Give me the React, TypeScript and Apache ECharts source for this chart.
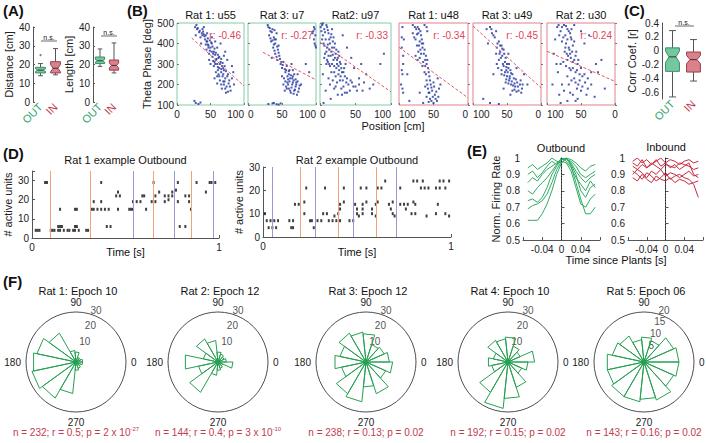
import React, { useEffect, useRef } from 'react';
import * as echarts from 'echarts';

const FONT = 'Liberation Sans, Arial, Helvetica, sans-serif';
const RED = '#c23a4e';
const OUT_FILL = '#74c8a0';
const OUT_STROKE = '#3f8c68';
const IN_FILL = '#dc808c';
const IN_STROKE = '#9c3e4e';
const ORANGE = '#f2a37a';
const PURPLE = '#9a9ad2';
const DOT_BLUE = '#1c2f9c';

// ---------- Panel A / C (box plots) ----------
const boxCats = ['OUT', 'IN'];
// [cat, min, q1, notchLo, median, notchHi, q3, max]
const distanceBoxes = [
  [0, 14, 15.5, 16.3, 17, 17.7, 18.5, 20.5],
  [1, 14.5, 15.5, 16, 18, 20, 21.5, 28.5],
];
const distanceOutliers = [[0, 25]];
const lengthBoxes = [
  [0, 19, 20.5, 21.3, 22, 22.7, 24, 28.3],
  [1, 15.5, 17, 18.3, 19.5, 20.7, 22.4, 31.5],
];
const corrBoxes = [
  [0, -0.67, -0.3, -0.17, -0.09, -0.01, 0.04, 0.29],
  [1, -0.44, -0.31, -0.19, -0.13, -0.07, -0.02, 0.16],
];

// ---------- Panel B (phase precession) ----------
const bTitles = ['Rat 1: u55', 'Rat 3: u7', 'Rat2: u97', 'Rat 1: u48', 'Rat 3: u49', 'Rat 2: u30'];
const bR = ['-0.46', '-0.27', '-0.33', '-0.34', '-0.45', '-0.24'];
const bFits = [
  [[22, 427], [100, 193]],
  [[22, 357], [100, 223]],
  [[0, 406], [100, 164]],
  [[100, 381], [0, 135]],
  [[100, 485], [0, 184]],
  [[100, 362], [0, 215]],
];
const bPts1 = [[27,480],[30,470],[33,455],[28,440],[35,430],[38,470],[40,445],[42,420],[36,400],[45,410],[47,390],[44,370],[50,380],[52,400],[48,350],[55,360],[53,335],[57,345],[58,320],[60,380],[62,330],[50,300],[55,290],[60,300],[63,280],[65,310],[67,290],[58,260],[62,250],[66,260],[70,270],[68,240],[72,230],[64,220],[70,200],[74,190],[76,250],[78,220],[80,170],[73,160],[67,180],[60,205],[82,290],[75,320],[70,340],[85,200],[45,450],[52,430],[57,410],[40,480],[28,110],[32,105],[35,112],[26,120],[65,400],[72,360],[48,320],[56,230],[43,395],[54,315],[61,270],[69,215],
  [29,490],[31,475],[34,462],[37,450],[39,458],[41,435],[43,440],[46,425],[49,415],[51,405],[46,395],[53,385],[56,375],[49,365],[58,355],[61,345],[54,350],[63,335],[59,325],[66,325],[56,310],[64,300],[68,305],[61,285],[69,280],[71,290],[66,275],[73,265],[63,240],[69,250],[75,240],[71,215],[77,205],[66,200],[79,190],[72,180],[76,165],[82,230],[84,260],[60,240],[52,360],[44,410],[38,440],[47,380],[57,300]];
const bPts2 = [[30,480],[33,460],[36,470],[31,440],[38,430],[34,410],[40,400],[42,450],[37,380],[44,370],[40,350],[46,340],[35,330],[43,320],[48,300],[50,280],[52,310],[55,260],[57,290],[60,250],[53,230],[58,210],[62,230],[65,200],[60,180],[67,220],[70,190],[63,160],[68,170],[72,150],[75,180],[56,190],[50,240],[66,270],[73,250],[78,200],[54,170],[64,300],[97,480],[99,440],[98,400],[96,460],[100,380],[30,105],[38,110],[45,102],[48,108],[85,300],[90,260],[59,200],[61,270],[66,240],[71,210],[39,420],[45,390],
  [29,490],[32,475],[35,455],[39,465],[33,425],[36,415],[41,420],[38,395],[43,385],[39,365],[45,355],[42,335],[47,325],[49,310],[51,295],[54,275],[56,270],[58,240],[61,215],[63,245],[59,225],[64,185],[66,210],[69,175],[71,200],[74,165],[62,170],[57,180],[67,155],[52,200],[55,215],[60,265],[65,230],[70,225],[76,195],[73,215],[68,250],[98,470],[97,420],[99,390],[95,450],[36,108],[42,104]];
const bPts3 = [[3,490],[6,470],[10,480],[4,440],[8,420],[12,450],[15,430],[5,400],[10,380],[14,400],[18,410],[20,380],[7,350],[12,340],[16,360],[22,350],[25,330],[19,320],[9,300],[14,290],[24,300],[28,310],[30,280],[20,260],[26,250],[33,260],[35,240],[12,230],[18,220],[28,220],[38,230],[40,200],[22,190],[30,180],[45,210],[50,190],[42,170],[35,160],[25,150],[55,230],[60,170],[48,280],[58,300],[65,250],[75,200],[85,300],[90,350],[8,170],[15,130],[5,110],[32,440],[38,380],[44,330],[2,460],[17,470],[11,310],[27,270],[36,300],
  [1,480],[4,498],[7,455],[9,490],[11,465],[13,420],[16,445],[19,430],[21,400],[3,420],[6,390],[9,360],[11,395],[13,370],[17,380],[23,370],[26,360],[15,340],[18,345],[21,330],[24,320],[27,340],[29,300],[10,320],[13,300],[17,300],[20,290],[23,280],[26,290],[31,260],[34,280],[16,260],[22,240],[29,240],[32,220],[37,210],[24,210],[20,180],[33,190],[43,220],[47,190],[52,170],[38,160],[31,150],[55,200],[62,210],[70,180],[6,330],[4,250],[14,200]];
const bPts4 = [[95,480],[93,420],[96,380],[94,300],[95,250],[97,200],[94,160],[80,490],[75,470],[72,450],[78,430],[70,410],[68,440],[74,390],[66,380],[72,360],[64,350],[70,330],[62,320],[76,340],[60,300],[66,290],[58,280],[63,260],[56,240],[60,220],[54,200],[58,180],[50,210],[52,170],[48,150],[55,130],[45,120],[50,110],[60,140],[62,190],[44,230],[40,200],[65,110],[70,160],[42,180],[88,250],[85,120],[63,490],[59,460],[73,480],[67,400],[57,160],
  [77,480],[71,470],[69,460],[74,445],[76,420],[67,420],[65,400],[71,390],[69,370],[63,370],[61,340],[68,350],[73,320],[65,310],[59,320],[62,290],[57,260],[61,250],[55,220],[59,200],[53,185],[56,160],[51,140],[47,130],[53,120],[57,115],[46,165],[49,190],[43,140],[96,430],[94,340],[96,270],[95,180],[80,450],[60,480]];
const bPts5 = [[80,470],[75,480],[72,450],[68,430],[78,400],[62,410],[58,390],[65,380],[60,360],[55,370],[57,340],[52,330],[62,320],[50,300],[55,290],[48,280],[53,260],[45,270],[58,250],[50,240],[42,250],[47,220],[40,230],[52,210],[44,200],[38,190],[35,210],[30,220],[42,170],[33,170],[28,180],[25,250],[36,280],[45,150],[55,180],[65,300],[70,250],[85,130],[75,110],[62,105],[20,200],[48,350],[66,460],[51,270],[46,240],[39,205],
  [73,470],[70,440],[64,400],[60,390],[57,375],[61,350],[54,350],[59,330],[53,310],[56,300],[51,285],[47,300],[49,260],[54,245],[44,255],[46,230],[51,225],[43,215],[41,195],[48,205],[37,225],[34,190],[31,200],[39,175],[29,160],[36,165],[27,200],[63,280],[58,270],[66,350]];
const bPts6 = [[85,480],[80,460],[75,490],[70,470],[66,450],[88,420],[78,410],[72,400],[68,380],[62,390],[74,360],[66,350],[58,340],[70,320],[62,310],[55,300],[80,300],[84,260],[65,270],[58,260],[50,280],[45,250],[60,230],[52,220],[40,230],[68,200],[56,180],[48,190],[35,200],[75,170],[62,150],[70,120],[80,110],[55,130],[42,150],[30,140],[25,260],[20,320],[90,350],[92,200],[45,400],[38,440],[50,460],[15,180],[60,490],[73,440],[64,420],[69,340],
  [83,490],[78,480],[72,485],[68,460],[64,470],[82,440],[76,430],[70,420],[65,430],[60,410],[73,380],[67,370],[63,360],[57,360],[71,350],[65,330],[60,320],[54,320],[76,310],[72,290],[67,280],[62,280],[56,270],[52,250],[48,240],[64,220],[58,210],[54,200],[44,210],[70,240],[66,160],[50,170],[40,180],[78,200],[86,300],[35,260],[28,300],[82,150],[58,120]];
const bPoints = [bPts1, bPts2, bPts3, bPts4, bPts5, bPts6];

// ---------- Panel D (rasters) ----------
const dTitles = ['Rat 1 example Outbound', 'Rat 2 example Outbound'];
const rat1Raster = [[0.02,4],[0.03,4],[0.04,4],[0.10,4],[0.11,4],[0.12,4],[0.14,4],[0.15,4],[0.17,4],[0.19,4],[0.20,4],[0.22,4],[0.23,4],[0.25,4],[0.29,4],[0.30,4],
  [0.14,6],[0.15,6],[0.16,6],[0.23,6],[0.24,6],[0.40,6],[0.42,6],[0.79,6],[0.82,6],
  [0.15,15],[0.23,15],[0.24,15],[0.32,15],[0.33,15],[0.35,15],[0.37,15],[0.39,15],[0.41,15],[0.46,15],[0.52,15],[0.53,15],[0.54,15],[0.61,15],[0.85,15],
  [0.33,19],[0.37,19],[0.54,19],[0.56,19],[0.58,19],[0.64,19],[0.66,19],[0.71,19],[0.73,20],[0.78,19],[0.84,19],
  [0.45,22],[0.47,22],[0.59,22],[0.60,22],[0.66,22],[0.71,22],[0.73,22],[0.75,22],[0.82,22],[0.84,22],
  [0.46,24],[0.68,24],[0.75,24],[0.77,25],[0.93,24],
  [0.07,29],[0.08,29],[0.37,29],[0.65,29],[0.78,29],[0.88,29],[0.95,29],[0.96,29],[0.98,29]];
const rat2Raster = [[0.03,4],[0.05,4],[0.07,4],[0.15,4],[0.16,4],[0.27,4],
  [0.02,7],[0.04,7],[0.06,7],[0.08,7],[0.14,7],[0.16,7],[0.25,7],[0.26,7],[0.29,7],[0.31,7],[0.35,7],[0.37,7],[0.39,7],[0.41,7],[0.46,7],[0.48,7],
  [0.01,10],[0.22,10],[0.32,10],[0.34,10],[0.38,9],[0.40,10],[0.50,10],[0.51,9],[0.53,10],[0.58,10],[0.60,9],[0.69,10],[0.70,9],[0.79,10],[0.81,10],[0.87,9],[0.92,10],[0.97,10],[0.99,9],
  [0.41,12],[0.50,12],[0.53,12],[0.58,12],[0.68,12],[0.76,12],
  [0.17,14],[0.19,14],[0.22,15],[0.41,14],[0.43,15],[0.49,14],[0.53,14],[0.55,15],[0.60,14],[0.61,15],[0.67,14],[0.69,15],[0.73,14],[0.75,14],[0.77,14],[0.80,15],[0.81,14],[0.93,14],
  [0.23,21],[0.33,21],[0.43,21],[0.52,21],[0.55,21],[0.61,21],[0.63,21],[0.73,21],[0.84,21],[0.86,21],[0.88,21],[0.92,21],[0.94,21],[0.97,21],
  [0.65,24],[0.80,24],[0.82,24],[0.85,24],[0.94,24],[0.96,24],[0.99,24]];
const rat1Orange = [0.10, 0.314, 0.645, 0.854];
const rat1Purple = [0.541, 0.757, 0.966];
const rat2Orange = [0.201, 0.395, 0.605];
const rat2Purple = [0.053, 0.285, 0.484, 0.708];

// ---------- Panel E (normalized firing rate) ----------
const eTimes = [-0.07,-0.06,-0.05,-0.04,-0.03,-0.02,-0.01,0,0.01,0.02,0.03,0.04,0.05,0.06,0.07];
const eOutbound = [
  [0.62,0.62,0.62,0.66,0.72,0.80,0.90,0.97,1.00,0.95,0.85,0.75,0.66,0.66,0.70],
  [0.69,0.71,0.72,0.74,0.78,0.85,0.93,0.98,0.97,0.92,0.82,0.72,0.70,0.75,0.78],
  [0.74,0.75,0.73,0.76,0.82,0.90,0.95,0.99,1.00,0.96,0.90,0.80,0.76,0.82,0.84],
  [0.80,0.78,0.82,0.85,0.88,0.92,0.96,1.00,0.98,0.94,0.88,0.84,0.80,0.86,0.82],
  [0.85,0.88,0.86,0.90,0.93,0.95,0.97,0.99,1.00,0.97,0.92,0.88,0.85,0.88,0.90],
  [0.90,0.92,0.88,0.91,0.95,0.98,0.96,1.00,0.99,0.98,0.95,0.90,0.88,0.90,0.92],
  [0.94,0.96,0.93,0.95,0.97,1.00,0.98,0.97,1.00,0.99,0.97,0.94,0.92,0.95,0.96],
];
const eInbound = [
  [0.98,1.00,0.97,0.99,0.96,0.98,1.00,0.97,0.99,0.98,0.96,0.98,0.99,0.97,0.98],
  [0.95,0.93,0.96,0.94,0.97,0.95,0.93,0.96,0.95,0.94,0.97,0.96,0.95,0.93,0.94],
  [0.90,0.93,0.91,0.88,0.92,0.90,0.93,0.89,0.91,0.90,0.88,0.90,0.92,0.89,0.90],
  [0.88,0.86,0.90,0.87,0.85,0.89,0.87,0.86,0.88,0.85,0.87,0.86,0.84,0.85,0.86],
  [0.92,0.90,0.87,0.91,0.89,0.86,0.88,0.91,0.87,0.89,0.90,0.88,0.87,0.84,0.76],
  [0.97,0.95,0.99,0.94,0.96,0.99,0.95,0.97,0.94,0.96,0.93,0.95,0.97,0.90,0.88],
];

// ---------- Panel F (rose plots, 15 bins of 24 deg) ----------
const fTitles = ['Rat 1: Epoch 10', 'Rat 2: Epoch 12', 'Rat 3: Epoch 12', 'Rat 4: Epoch 10', 'Rat 5: Epoch 06'];
const fN = [232, 144, 238, 192, 143];
const fRval = ['0.5', '0.4', '0.13', '0.15', '0.16'];
const fPbase = ['2 x 10', '3 x 10', '0.02', '0.02', '0.02'];
const fPexp = ['-27', '-10', '', '', ''];
const binWidth = 24;
const roseCounts = [
  [4,3,3,6,7,20,24,26,27,25,19,5,4,3,4],
  [5,4,5,6,13,16,9,20,12,21,8,5,4,3,9],
  [14,12,11,17,18,20,16,19,15,22,24,15,20,13,16],
  [16,8,10,15,14,15,9,12,10,21,28,22,16,9,12],
  [14,13,9,10,9,12,13,15,15,16,16,15,16,13,14],
];
const roseMax = [30, 30, 30, 30, 20];
const roseTickLabels = [[10,20,30],[10,20,30],[10,20,30],[10,20,30],[5,10,15,20]];

function rosePath(counts: number[]) {
  const pts: number[][] = [];
  counts.forEach((c, i) => {
    const a0 = i * binWidth;
    const a1 = a0 + binWidth;
    pts.push([0, a0], [c, a0], [c, a1], [0, a1]);
  });
  return pts;
}

function boxRender(fills: string[], strokes: string[]) {
  return (params: any, api: any) => {
    const xi = api.value(0);
    const mn = api.value(1), q1 = api.value(2), nlo = api.value(3), med = api.value(4),
      nhi = api.value(5), q3 = api.value(6), mx = api.value(7);
    const cx = api.coord([xi, med])[0];
    const Y = (v: number) => api.coord([xi, v])[1];
    const bw = api.size([1, 0])[0] * 0.33;
    const nw = bw * 0.5;
    const wc = '#555';
    return {
      type: 'group',
      children: [
        { type: 'line', shape: { x1: cx, y1: Y(q3), x2: cx, y2: Y(mx) }, style: { stroke: wc, lineWidth: 1 } },
        { type: 'line', shape: { x1: cx, y1: Y(q1), x2: cx, y2: Y(mn) }, style: { stroke: wc, lineWidth: 1 } },
        { type: 'line', shape: { x1: cx - nw, y1: Y(mx), x2: cx + nw, y2: Y(mx) }, style: { stroke: wc, lineWidth: 1 } },
        { type: 'line', shape: { x1: cx - nw, y1: Y(mn), x2: cx + nw, y2: Y(mn) }, style: { stroke: wc, lineWidth: 1 } },
        {
          type: 'polygon',
          shape: {
            points: [
              [cx - bw, Y(q1)], [cx - bw, Y(nlo)], [cx - nw, Y(med)], [cx - bw, Y(nhi)], [cx - bw, Y(q3)],
              [cx + bw, Y(q3)], [cx + bw, Y(nhi)], [cx + nw, Y(med)], [cx + bw, Y(nlo)], [cx + bw, Y(q1)],
            ],
          },
          style: { fill: fills[xi], stroke: strokes[xi], lineWidth: 1 },
        },
        { type: 'line', shape: { x1: cx - nw, y1: Y(med), x2: cx + nw, y2: Y(med) }, style: { stroke: '#333', lineWidth: 1 } },
      ],
    };
  };
}

function txt(x: number, y: number, text: string, opts: any = {}) {
  const align = opts.align || 'center';
  const valign = opts.valign || 'middle';
  return {
    type: 'text', x, y, rotation: opts.rotation || 0, silent: true,
    style: {
      text, fill: opts.color || '#111', fontSize: opts.size || 11, fontFamily: FONT,
      fontWeight: opts.bold ? 'bold' : 'normal',
      align, verticalAlign: valign, textAlign: align, textVerticalAlign: valign,
      rich: opts.rich,
    },
  };
}

function buildOption() {
  const grid: any[] = [];
  const xAxis: any[] = [];
  const yAxis: any[] = [];
  const series: any[] = [];
  const graphic: any[] = [];
  const tickLbl = { fontSize: 10, color: '#222', fontFamily: FONT };
  const nameStyle = { fontSize: 11, color: '#222', fontFamily: FONT };
  const axLine = { show: true, lineStyle: { color: '#555', width: 1 } };

  // ---- A ----
  const catAxis = (gi: number) => ({
    gridIndex: gi, type: 'category', data: boxCats, axisLine: { show: false }, axisTick: { show: false },
    axisLabel: {
      rotate: 45, margin: 3, interval: 0,
      formatter: (v: string) => (v === 'OUT' ? '{g|OUT}' : '{r|IN}'),
      rich: { g: { color: '#2fa56c', fontSize: 11, fontFamily: FONT }, r: { color: RED, fontSize: 11, fontFamily: FONT } },
    },
  });
  grid.push({ left: 33, top: 27, width: 30, height: 75 });
  xAxis.push(catAxis(0));
  yAxis.push({ gridIndex: 0, type: 'value', min: 0, max: 40, interval: 10, axisLine: axLine,
    axisTick: { show: true, inside: true, length: 2 }, axisLabel: { ...tickLbl, margin: 3 }, splitLine: { show: false },
    name: 'Distance [cm]', nameLocation: 'middle', nameGap: 16, nameTextStyle: nameStyle });
  grid.push({ left: 93, top: 27, width: 28, height: 75 });
  xAxis.push(catAxis(1));
  yAxis.push({ gridIndex: 1, type: 'value', min: 0, max: 40, interval: 10, axisLine: axLine,
    axisTick: { show: true, inside: true, length: 2 }, axisLabel: { ...tickLbl, margin: 3 }, splitLine: { show: false },
    name: 'Length [cm]', nameLocation: 'middle', nameGap: 16, nameTextStyle: nameStyle });
  series.push({ type: 'custom', xAxisIndex: 0, yAxisIndex: 0, renderItem: boxRender([OUT_FILL, IN_FILL], [OUT_STROKE, IN_STROKE]),
    data: distanceBoxes, encode: { x: 0, y: [1, 2, 3, 4, 5, 6, 7] }, silent: true });
  series.push({ type: 'scatter', xAxisIndex: 0, yAxisIndex: 0, data: distanceOutliers, symbol: 'circle', symbolSize: 2,
    itemStyle: { color: '#555' }, silent: true });
  series.push({ type: 'custom', xAxisIndex: 1, yAxisIndex: 1, renderItem: boxRender([OUT_FILL, IN_FILL], [OUT_STROKE, IN_STROKE]),
    data: lengthBoxes, encode: { x: 0, y: [1, 2, 3, 4, 5, 6, 7] }, silent: true });

  // ---- B ----
  const bLayout = [[177, 67], [248, 68], [320, 71], [399, 69], [473, 68], [547, 68]];
  bLayout.forEach(([left, width], i) => {
    const gi = 2 + i;
    const isOut = i < 3;
    const xLabel: any = { ...tickLbl, margin: 4 };
    if (isOut) {
      xLabel.alignMaxLabel = 'right';
      if (i > 0) xLabel.alignMinLabel = 'left';
    } else {
      xLabel.alignMaxLabel = 'left';
      if (i < 5) xLabel.alignMinLabel = 'right';
    }
    grid.push({ left, top: 23, width, height: 82, show: true, borderColor: isOut ? '#86cba6' : '#e0818d', borderWidth: 1 });
    xAxis.push({ gridIndex: gi, type: 'value', min: 0, max: 100, interval: 50, inverse: !isOut,
      axisLine: { show: false }, axisTick: { show: true, inside: true, length: 2, lineStyle: { color: '#777' } },
      axisLabel: xLabel, splitLine: { show: false } });
    yAxis.push({ gridIndex: gi, type: 'value', min: 100, max: 500, interval: 100,
      axisLine: { show: false }, axisTick: { show: true, inside: true, length: 2, lineStyle: { color: '#777' } },
      axisLabel: { ...tickLbl, show: i === 0, margin: 3 }, splitLine: { show: false },
      name: i === 0 ? 'Theta Phase [deg]' : '', nameLocation: 'middle', nameGap: 25, nameTextStyle: nameStyle });
    series.push({ type: 'scatter', xAxisIndex: gi, yAxisIndex: gi, data: bPoints[i], symbol: 'rect', symbolSize: 2,
      itemStyle: { color: DOT_BLUE }, silent: true });
    series.push({ type: 'line', xAxisIndex: gi, yAxisIndex: gi, data: bFits[i], symbol: 'none', silent: true,
      lineStyle: { color: '#e25766', width: 1, type: [3, 2] } });
    graphic.push(txt(left + width / 2, 15, bTitles[i], { size: 11 }));
    graphic.push(txt(left + width - 3, 35, 'r: ' + bR[i], { size: 10, color: '#e0445a', align: 'right' }));
  });
  graphic.push(txt(393, 126, 'Position [cm]', { size: 11 }));

  // ---- C ----
  grid.push({ left: 662, top: 23, width: 42, height: 76 });
  xAxis.push(catAxis(8));
  yAxis.push({ gridIndex: 8, type: 'value', min: -0.7, max: 0.4, interval: 0.1, axisLine: axLine,
    axisTick: { show: false },
    axisLabel: { ...tickLbl, margin: 3, formatter: (v: number) => { const k = Math.round(v * 10); return k % 2 === 0 ? (k === 0 ? '0' : String(k / 10)) : ''; } },
    splitLine: { show: false }, name: 'Corr Coef. [r]', nameLocation: 'middle', nameGap: 22, nameTextStyle: nameStyle });
  series.push({ type: 'custom', xAxisIndex: 8, yAxisIndex: 8, renderItem: boxRender([OUT_FILL, IN_FILL], [OUT_STROKE, IN_STROKE]),
    data: corrBoxes, encode: { x: 0, y: [1, 2, 3, 4, 5, 6, 7] }, silent: true });

  // n.s. brackets
  graphic.push({ type: 'line', shape: { x1: 41, y1: 41, x2: 57, y2: 41 }, style: { stroke: '#444', lineWidth: 0.8 }, silent: true });
  graphic.push(txt(49, 37, 'n.s.', { size: 7 }));
  graphic.push({ type: 'line', shape: { x1: 101, y1: 36, x2: 117, y2: 36 }, style: { stroke: '#444', lineWidth: 0.8 }, silent: true });
  graphic.push(txt(109, 32, 'n.s.', { size: 7 }));
  graphic.push({ type: 'line', shape: { x1: 675, y1: 26, x2: 694, y2: 26 }, style: { stroke: '#444', lineWidth: 0.8 }, silent: true });
  graphic.push(txt(684, 22, 'n.s.', { size: 7 }));

  // ---- D ----
  const dLayout = [[32, 187, 171, 67, 35], [263, 188, 167, 70, 30]];
  const rasters = [rat1Raster, rat2Raster];
  const oranges = [rat1Orange, rat2Orange];
  const purples = [rat1Purple, rat2Purple];
  dLayout.forEach(([left, width, top, height, ymax], i) => {
    const gi = 9 + i;
    grid.push({ left, top, width, height });
    xAxis.push({ gridIndex: gi, type: 'value', min: 0, max: 1, interval: 1, axisLine: axLine,
      axisTick: { show: true, inside: true, length: 3 }, axisLabel: { ...tickLbl, margin: 4 }, splitLine: { show: false } });
    yAxis.push({ gridIndex: gi, type: 'value', min: 0, max: ymax, interval: 10, axisLine: axLine,
      axisTick: { show: true, inside: true, length: 3 },
      axisLabel: { ...tickLbl, margin: 3, formatter: (v: number) => (v % 10 === 0 ? String(v) : '') },
      splitLine: { show: false }, name: '# active units', nameLocation: 'middle', nameGap: 18, nameTextStyle: nameStyle });
    const ml = oranges[i].map((x) => ({ xAxis: x, lineStyle: { color: ORANGE, width: 1, type: 'solid' } }))
      .concat(purples[i].map((x) => ({ xAxis: x, lineStyle: { color: PURPLE, width: 1, type: 'solid' } })));
    series.push({ type: 'scatter', xAxisIndex: gi, yAxisIndex: gi, data: rasters[i], symbol: 'rect', symbolSize: [2, 3],
      itemStyle: { color: '#111' }, silent: true,
      markLine: { silent: true, symbol: 'none', label: { show: false }, data: ml, animation: false } });
    graphic.push(txt(left + width / 2, 160, dTitles[i], { size: 11 }));
    graphic.push(txt(left + width / 2, 252, 'Time [s]', { size: 11 }));
  });

  // ---- E ----
  const eLayout = [[523, 77], [628, 78]];
  const eSets = [eOutbound, eInbound];
  const eColors = ['#2faa63', '#c8283f'];
  eLayout.forEach(([left, width], i) => {
    const gi = 11 + i;
    grid.push({ left, top: 158, width, height: 82 });
    xAxis.push({ gridIndex: gi, type: 'value', min: -0.08, max: 0.08, interval: 0.04, axisLine: axLine,
      axisTick: { show: true, inside: true, length: 3 },
      axisLabel: { ...tickLbl, margin: 4, formatter: (v: number) => (Math.abs(v) > 0.07 ? '' : v === 0 ? '0' : String(Math.round(v * 100) / 100)) },
      splitLine: { show: false } });
    yAxis.push({ gridIndex: gi, type: 'value', min: 0.5, max: 1, interval: 0.1, axisLine: axLine,
      axisTick: { show: true, inside: true, length: 3 },
      axisLabel: { ...tickLbl, margin: 3, formatter: (v: number) => String(Number(v.toFixed(1))) },
      splitLine: { show: false },
      name: i === 0 ? 'Norm. Firing Rate' : '', nameLocation: 'middle', nameGap: 22, nameTextStyle: nameStyle });
    eSets[i].forEach((vals, k) => {
      series.push({ type: 'line', xAxisIndex: gi, yAxisIndex: gi, data: eTimes.map((t, j) => [t, vals[j]]),
        symbol: 'none', silent: true, lineStyle: { color: eColors[i], width: 1 },
        markLine: k === 0 ? { silent: true, symbol: 'none', label: { show: false },
          data: [{ xAxis: 0 }], lineStyle: { color: '#222', width: 1, type: [1, 2] } } : undefined });
    });
  });
  graphic.push(txt(561, 148, 'Outbound', { size: 11 }));
  graphic.push(txt(666, 147, 'Inbound', { size: 11 }));
  graphic.push(txt(616, 260, 'Time since Plants [s]', { size: 11 }));

  // ---- F ----
  const centers = [76, 218, 366, 508, 644];
  const polar: any[] = [];
  const angleAxis: any[] = [];
  const radiusAxis: any[] = [];
  centers.forEach((cx, i) => {
    polar.push({ center: [cx, 362], radius: 50 });
    angleAxis.push({ polarIndex: i, type: 'value', min: 0, max: 360, interval: 90, startAngle: 0, clockwise: false,
      axisLine: { show: true, lineStyle: { color: '#222', width: 0.8 } }, axisTick: { show: false }, splitLine: { show: false },
      axisLabel: { ...tickLbl, margin: 5, formatter: (v: number) => (v === 360 ? '' : String(v)) } });
    radiusAxis.push({ polarIndex: i, type: 'value', min: 0, max: roseMax[i], axisLine: { show: false },
      axisTick: { show: false }, axisLabel: { show: false }, splitLine: { show: false } });
    series.push({ type: 'line', coordinateSystem: 'polar', polarIndex: i, data: rosePath(roseCounts[i]), symbol: 'none',
      silent: true, lineStyle: { color: '#27a052', width: 1 } });
    series.push({ type: 'scatter', coordinateSystem: 'polar', polarIndex: i, data: [[0, 0]], symbol: 'circle', symbolSize: 5,
      itemStyle: { color: '#27a052' }, silent: true });
    series.push({ type: 'scatter', coordinateSystem: 'polar', polarIndex: i, data: roseTickLabels[i].map((r) => [r, 70]),
      symbolSize: 1, itemStyle: { color: 'rgba(0,0,0,0)' }, silent: true,
      label: { show: true, position: 'inside', offset: [3, -5], formatter: (p: any) => String(p.value[0]), ...tickLbl } });
    graphic.push(txt(cx + 2, 291, fTitles[i], { size: 11 }));
    const exp = fPexp[i];
    const text = '{n|n = ' + fN[i] + '; r = ' + fRval[i] + '; p = ' + fPbase[i] + '}' + (exp ? '{s|' + exp + '}' : '');
    graphic.push(txt(cx, 432, text, {
      size: 10, color: RED,
      rich: {
        n: { fontSize: 10, color: RED, fontFamily: FONT, lineHeight: 12 },
        s: { fontSize: 6, color: RED, fontFamily: FONT, verticalAlign: 'top', lineHeight: 12, padding: [0, 0, 5, 0] },
      },
    }));
  });

  // panel labels
  graphic.push(txt(3, 10, '(A)', { size: 15, bold: true, align: 'left' }));
  graphic.push(txt(127, 10, '(B)', { size: 15, bold: true, align: 'left' }));
  graphic.push(txt(624, 10, '(C)', { size: 15, bold: true, align: 'left' }));
  graphic.push(txt(3, 153, '(D)', { size: 15, bold: true, align: 'left' }));
  graphic.push(txt(467, 150, '(E)', { size: 15, bold: true, align: 'left' }));
  graphic.push(txt(3, 281, '(F)', { size: 15, bold: true, align: 'left' }));

  return {
    animation: false,
    backgroundColor: '#fff',
    textStyle: { fontFamily: FONT },
    grid, xAxis, yAxis, polar, angleAxis, radiusAxis, series, graphic,
  };
}

export default function App() {
  const ref = useRef<HTMLDivElement>(null);
  useEffect(() => {
    if (!ref.current) return;
    const chart = echarts.init(ref.current, null, { renderer: 'svg' });
    chart.setOption(buildOption() as any);
    return () => chart.dispose();
  }, []);
  return (
    <div
      ref={ref}
      style={{ position: 'fixed', left: 0, top: 0, width: 706, height: 443, background: '#fff' }}
    />
  );
}
